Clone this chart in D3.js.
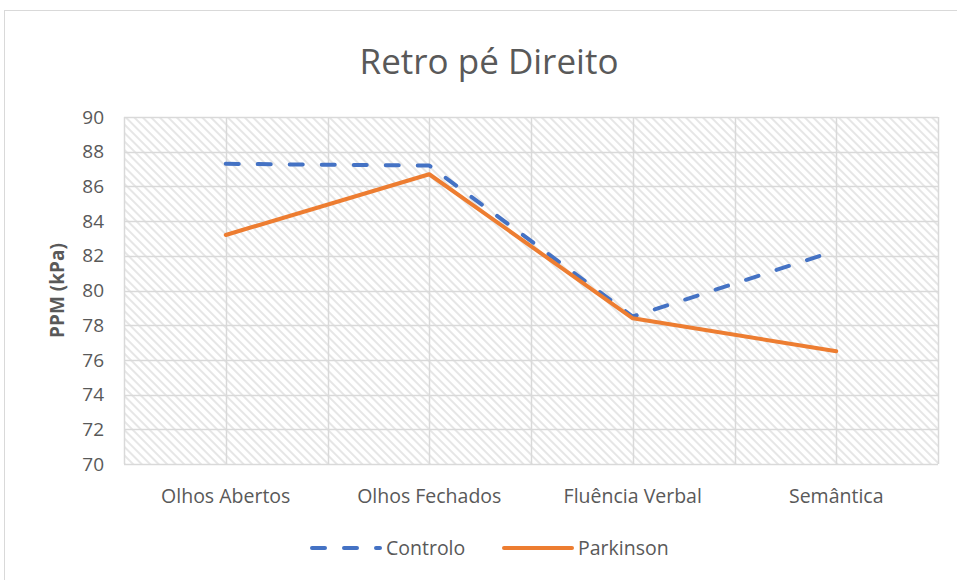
<!DOCTYPE html>
<html>
<head>
<meta charset="utf-8">
<script src="https://cdn.jsdelivr.net/npm/d3@7"></script>
<style>
  body { margin: 0; background: #fff; }
  text { font-family: "Open Sans", "Noto Sans", sans-serif; fill: #595959; }
</style>
</head>
<body>
<div id="chart"></div>
<script>
const width = 957;
const height = 580;

// data
const categories = ["Olhos Abertos", "Olhos Fechados", "Fluência Verbal", "Semântica"];
const controlo = [87.3, 87.2, 78.5, 82.3];
const parkinson = [83.2, 86.7, 78.4, 76.5];
const yTicks = [70, 72, 74, 76, 78, 80, 82, 84, 86, 88, 90];

const series = [
  { name: "Controlo", values: controlo, color: "#4472C4", dash: "13,19" },
  { name: "Parkinson", values: parkinson, color: "#ED7D31", dash: null }
];

const margin = { top: 117, right: 19, bottom: 116, left: 124 };
const innerW = width - margin.left - margin.right;
const innerH = height - margin.top - margin.bottom;

const svg = d3.select("#chart")
  .append("svg")
  .attr("width", width)
  .attr("height", height);

// outer chart frame
svg.append("rect")
  .attr("x", 4.5).attr("y", 10.5)
  .attr("width", width + 10).attr("height", height + 10)
  .attr("fill", "#fff")
  .attr("stroke", "#d9d9d9");

// hatch pattern (downward diagonal)
const pattern = svg.append("defs").append("pattern")
  .attr("id", "hatch")
  .attr("patternUnits", "userSpaceOnUse")
  .attr("width", 6).attr("height", 6)
  .attr("patternTransform", "rotate(-45)");
pattern.append("rect").attr("width", 6).attr("height", 6).attr("fill", "#fff");
pattern.append("rect").attr("width", 2).attr("height", 6).attr("fill", "#e6e6e6");

const x = d3.scaleBand()
  .domain(categories)
  .range([0, innerW]);

const y = d3.scaleLinear()
  .domain([70, 90])
  .range([innerH, 0]);

const g = svg.append("g")
  .attr("transform", `translate(${margin.left},${margin.top})`);

g.append("rect")
  .attr("width", innerW)
  .attr("height", innerH)
  .attr("fill", "url(#hatch)");

// horizontal gridlines
g.append("g")
  .selectAll("line")
  .data(yTicks)
  .enter()
  .append("line")
  .attr("x1", 0).attr("x2", innerW)
  .attr("y1", d => Math.round(y(d)) + 0.5)
  .attr("y2", d => Math.round(y(d)) + 0.5)
  .attr("stroke", "#d9d9d9")
  .attr("stroke-width", 1.5);

// vertical gridlines: category boundaries and centres
const vLines = [];
categories.forEach(c => {
  vLines.push(x(c));
  vLines.push(x(c) + x.bandwidth() / 2);
});
vLines.push(innerW);

g.append("g")
  .selectAll("line")
  .data(vLines)
  .enter()
  .append("line")
  .attr("x1", d => Math.round(d) + 0.5)
  .attr("x2", d => Math.round(d) + 0.5)
  .attr("y1", 0).attr("y2", innerH)
  .attr("stroke", "#d9d9d9")
  .attr("stroke-width", 1.5);

// y tick labels
g.append("g")
  .selectAll("text")
  .data(yTicks)
  .enter()
  .append("text")
  .attr("x", -20)
  .attr("y", d => y(d))
  .attr("dy", "0.35em")
  .attr("text-anchor", "end")
  .style("font-size", "19px")
  .text(d => d);

// x labels
g.append("g")
  .selectAll("text")
  .data(categories)
  .enter()
  .append("text")
  .attr("x", d => x(d) + x.bandwidth() / 2)
  .attr("y", innerH + 39)
  .attr("text-anchor", "middle")
  .style("font-size", "19.5px")
  .text(d => d);

// y axis title
svg.append("text")
  .attr("transform", `translate(64,${margin.top + innerH / 2}) rotate(-90)`)
  .attr("text-anchor", "middle")
  .style("font-size", "19px")
  .style("font-weight", "bold")
  .text("PPM (kPa)");

// title
svg.append("text")
  .attr("x", 489)
  .attr("y", 74)
  .attr("text-anchor", "middle")
  .style("font-size", "35px")
  .text("Retro pé Direito");

// lines
const line = d3.line()
  .x((d, i) => x(categories[i]) + x.bandwidth() / 2)
  .y(d => y(d));

g.selectAll(".series")
  .data(series)
  .enter()
  .append("path")
  .attr("class", "series")
  .attr("d", d => line(d.values))
  .attr("fill", "none")
  .attr("stroke", d => d.color)
  .attr("stroke-width", 4)
  .attr("stroke-linecap", "round")
  .attr("stroke-linejoin", "round")
  .attr("stroke-dasharray", d => d.dash);

// legend
const legendX = [310, 502];
const legend = svg.append("g")
  .selectAll("g")
  .data(series)
  .enter()
  .append("g")
  .attr("transform", (d, i) => `translate(${legendX[i]},548)`);

legend.append("line")
  .attr("x1", 2).attr("x2", 70)
  .attr("stroke", d => d.color)
  .attr("stroke-width", 4)
  .attr("stroke-linecap", "round")
  .attr("stroke-dasharray", d => d.dash ? "13,19" : null);

legend.append("text")
  .attr("x", 76)
  .attr("dy", "0.35em")
  .style("font-size", "19.5px")
  .text(d => d.name);
</script>
</body>
</html>
